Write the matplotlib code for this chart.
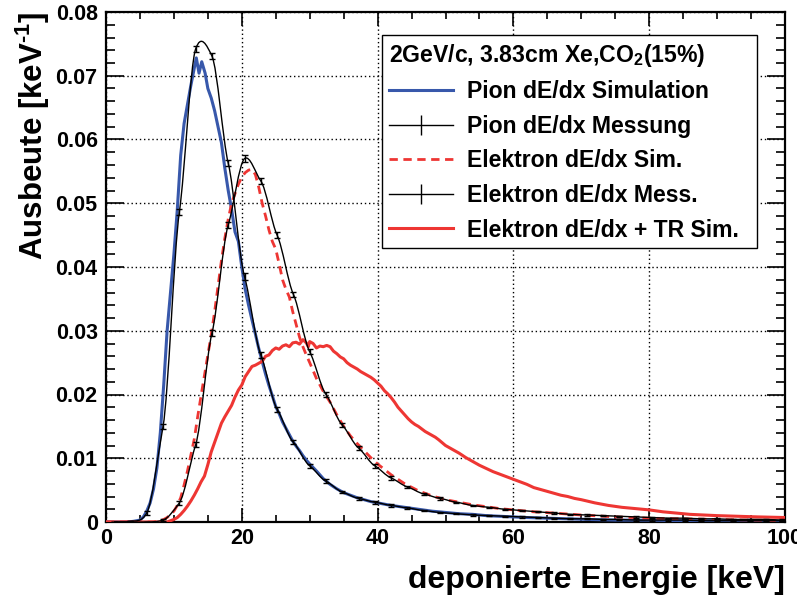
import numpy as np
import matplotlib
matplotlib.use("Agg")
import matplotlib.pyplot as plt
from matplotlib.path import Path
from matplotlib.patches import PathPatch
from matplotlib.lines import Line2D
from matplotlib.ticker import MultipleLocator, FuncFormatter

plt.rcParams.update({
    "font.family": ["Liberation Sans", "DejaVu Sans"],
    "font.weight": "bold",
    "mathtext.fontset": "custom",
    "mathtext.rm": "Liberation Sans:bold",
    "mathtext.it": "Liberation Sans:bold",
    "mathtext.bf": "Liberation Sans:bold",
})

BLUE = "#3858ab"
RED = "#ee3633"

# ---- pion dE/dx simulation (keV, yield per keV)
pi_sim_e = [0, 1, 2, 3, 4, 4.5, 5, 5.5, 6, 6.5, 7, 7.5, 8, 8.5, 9, 9.5, 10,
            10.5, 11, 11.5, 12, 12.5, 13, 13.3, 13.7, 14.1, 14.6, 15, 15.5,
            16, 16.5, 17, 17.5, 18, 18.5, 19, 19.5, 20, 20.5, 21, 21.5, 22,
            22.5, 23, 23.5, 24, 24.5, 25, 25.5, 26, 26.5, 27, 27.5, 28, 28.5,
            29, 29.5, 30, 31, 32, 33, 34, 35, 36, 37, 38, 39, 40, 42, 44, 46,
            48, 50, 52, 54, 56, 58, 60, 62, 65, 68, 71, 75, 80, 85, 90, 95, 100]
pi_sim_y = [0, 0, 0, 0, 0.0001, 0.0002, 0.0003, 0.0008, 0.0017, 0.0030,
            0.0052, 0.0085, 0.0140, 0.0215, 0.0300, 0.0360, 0.0420, 0.0490,
            0.0575, 0.0625, 0.0655, 0.0685, 0.0712, 0.0728, 0.0704, 0.0722,
            0.0704, 0.0680, 0.0665, 0.0645, 0.0620, 0.0595, 0.0555, 0.0520,
            0.0490, 0.0455, 0.0440, 0.0400, 0.0365, 0.0340, 0.0317, 0.0295,
            0.0272, 0.0252, 0.0232, 0.0214, 0.0198, 0.0181, 0.0170, 0.0157,
            0.0147, 0.0137, 0.0127, 0.0119, 0.0112, 0.0104, 0.0097, 0.0091,
            0.0080, 0.0068, 0.0059, 0.0052, 0.0046, 0.0042, 0.0038, 0.0035,
            0.0032, 0.0030, 0.0026, 0.0023, 0.0020, 0.0017, 0.0015, 0.0013,
            0.0012, 0.0010, 0.0009, 0.0008, 0.0007, 0.0006, 0.0005, 0.0004,
            0.0003, 0.0003, 0.0002, 0.0002, 0.0002, 0.0001]

# ---- electron dE/dx simulation
el_sim_e = [0, 7, 8, 8.5, 9, 9.5, 10, 10.5, 11, 11.5, 12, 12.5, 13, 13.5, 14,
            14.5, 15, 15.5, 16, 16.5, 17, 17.5, 18, 18.5, 19, 19.5, 20, 20.5,
            21, 21.5, 22, 22.5, 23, 23.5, 24, 24.5, 25, 25.5, 26, 26.5, 27,
            27.5, 28, 28.5, 29, 29.5, 30, 31, 32, 33, 34, 35, 36, 37, 38, 39,
            40, 42, 44, 46, 48, 50, 52, 54, 56, 58, 60, 63, 66, 70, 75, 80,
            85, 90, 95, 100]
el_sim_y = [0, 0, 0.0002, 0.0004, 0.0007, 0.0012, 0.0017, 0.0026, 0.0038,
            0.0058, 0.0080, 0.0105, 0.0130, 0.0165, 0.0198, 0.0230, 0.0262,
            0.0294, 0.0330, 0.0370, 0.0410, 0.0445, 0.0475, 0.0500, 0.0515,
            0.0530, 0.0541, 0.0548, 0.0552, 0.0553, 0.0545, 0.0525, 0.0500,
            0.0480, 0.0458, 0.0440, 0.0428, 0.0405, 0.0380, 0.0365, 0.0353,
            0.0330, 0.0310, 0.0290, 0.0275, 0.0262, 0.0250, 0.0225, 0.0205,
            0.0188, 0.0168, 0.0150, 0.0135, 0.0123, 0.0112, 0.0101, 0.0091,
            0.0074, 0.0060, 0.0049, 0.0041, 0.0035, 0.0031, 0.0027, 0.0024,
            0.0021, 0.0019, 0.0016, 0.0014, 0.0011, 0.0008, 0.0006, 0.0005,
            0.0004, 0.0003, 0.0002]

# ---- electron dE/dx + TR simulation
tr_sim_e = [0, 9, 9.5, 10, 10.5, 11, 11.5, 12, 12.5, 13, 13.5, 14, 14.5, 15,
            15.5, 16, 16.5, 17, 17.5, 18, 18.5, 19, 19.5, 20, 20.5, 21, 21.5,
            22, 22.5, 23, 23.5, 24, 24.5, 25, 25.5, 26, 26.5, 27, 27.5, 28,
            28.5, 29, 29.5, 29.8, 30, 30.5, 31, 31.5, 32, 32.5, 33, 33.5, 34,
            34.5, 35, 35.5, 36, 36.5, 37, 37.5, 38, 38.5, 39, 39.5, 40, 40.5,
            41, 41.5, 42, 42.5, 43, 43.5, 44, 44.5, 45, 45.5, 46, 46.5, 47,
            47.5, 48, 48.5, 49, 50, 51, 52, 53, 54, 55, 56, 57, 58, 59, 60,
            61, 62, 63, 64, 65, 66, 67, 68, 69, 70, 72, 74, 76, 78, 80, 82,
            84, 86, 88, 90, 93, 96, 100]
tr_sim_y = [0, 0, 0.0002, 0.0004, 0.0007, 0.0012, 0.0018, 0.0025, 0.0033,
            0.0042, 0.0052, 0.0063, 0.0072, 0.0090, 0.0110, 0.0125, 0.0140,
            0.0155, 0.0165, 0.0174, 0.0183, 0.0196, 0.0207, 0.0215, 0.0228,
            0.0236, 0.0244, 0.0246, 0.0249, 0.0252, 0.0260, 0.0262, 0.0269,
            0.0273, 0.0271, 0.0276, 0.0278, 0.0275, 0.0281, 0.0282, 0.0279,
            0.0286, 0.0281, 0.0275, 0.0283, 0.0280, 0.0273, 0.0276, 0.0275,
            0.0277, 0.0275, 0.0268, 0.0264, 0.0259, 0.0256, 0.0250, 0.0246,
            0.0243, 0.0240, 0.0236, 0.0233, 0.0230, 0.0227, 0.0223, 0.0218,
            0.0213, 0.0206, 0.0201, 0.0195, 0.0188, 0.0180, 0.0174, 0.0168,
            0.0162, 0.0157, 0.0153, 0.0150, 0.0146, 0.0142, 0.0139, 0.0136,
            0.0133, 0.0129, 0.0120, 0.0114, 0.0108, 0.0101, 0.0095, 0.0089,
            0.0084, 0.0079, 0.0075, 0.0071, 0.0067, 0.0063, 0.0059, 0.0054,
            0.0051, 0.0048, 0.0045, 0.0042, 0.0040, 0.0037, 0.0035, 0.0030,
            0.0026, 0.0023, 0.0021, 0.0019, 0.0016, 0.0014, 0.0012, 0.0011,
            0.0010, 0.0009, 0.0008, 0.0007]

# ---- measured spectra, 2.4 keV bins
meas_e = [1.2, 3.6, 6.0, 8.4, 10.8, 13.2, 15.6, 18.0, 20.4, 22.8, 25.2, 27.6,
          30.0, 32.4, 34.8, 37.2, 39.6, 42.0, 44.4, 46.8, 49.2, 51.6, 54.0,
          56.4, 58.8, 61.2, 63.6, 66.0, 68.4, 70.8, 73.2, 75.6, 78.0, 80.4,
          82.8, 85.2, 87.6, 90.0, 92.4, 94.8, 97.2, 99.6]
pi_meas_y = [0, 0.0001, 0.0014, 0.0150, 0.0486, 0.0742, 0.0731, 0.0563,
             0.0385, 0.0262, 0.0177, 0.0125, 0.0088, 0.0064, 0.0047, 0.0037,
             0.0031, 0.0026, 0.0022, 0.0018, 0.0015, 0.0013, 0.0011, 0.0010,
             0.0009, 0.0008, 0.0007, 0.0006, 0.0005, 0.0005, 0.0004, 0.0004,
             0.0003, 0.0003, 0.0003, 0.0003, 0.0002, 0.0002, 0.0002, 0.0002,
             0.0002, 0.0002]
pi_meas_err = [0, 0, 0.0003, 0.0004, 0.0005, 0.0005, 0.0005, 0.0005, 0.0005,
               0.0004, 0.0004, 0.0003, 0.0003, 0.0003, 0.0002, 0.0002, 0.0002,
               0.0002, 0.0001, 0.0001, 0.0001, 0.0001, 0.0001, 0.0001, 0.0001,
               0.0001, 0.0001, 0.0001, 0.0001, 0.0001, 0.0001, 0.0001, 0.0001,
               0.0001, 0.0001, 0.0001, 0.0001, 0.0001, 0.0001, 0.0001, 0.0001,
               0.0001]
el_meas_y = [0, 0, 0, 0.0003, 0.0030, 0.0121, 0.0296, 0.0466, 0.0570, 0.0535,
             0.0450, 0.0357, 0.0267, 0.0200, 0.0152, 0.0116, 0.0088, 0.0069,
             0.0055, 0.0044, 0.0037, 0.0031, 0.0026, 0.0023, 0.0020, 0.0018,
             0.0016, 0.0014, 0.0012, 0.0011, 0.0010, 0.0009, 0.0008, 0.0007,
             0.0006, 0.0006, 0.0005, 0.0005, 0.0004, 0.0004, 0.0004, 0.0003]
el_meas_err = [0, 0, 0, 0.0002, 0.0003, 0.0004, 0.0005, 0.0005, 0.0005,
               0.0005, 0.0005, 0.0004, 0.0004, 0.0004, 0.0003, 0.0003, 0.0003,
               0.0003, 0.0002, 0.0002, 0.0002, 0.0001, 0.0001, 0.0001, 0.0001,
               0.0001, 0.0001, 0.0001, 0.0001, 0.0001, 0.0001, 0.0001, 0.0001,
               0.0001, 0.0001, 0.0001, 0.0001, 0.0001, 0.0001, 0.0001, 0.0001,
               0.0001]

labels = ["Pion dE/dx Simulation", "Pion dE/dx Messung",
          "Elektron dE/dx Sim.", "Elektron dE/dx Mess.",
          "Elektron dE/dx + TR Sim."]
header = "2GeV/c, 3.83cm Xe,CO$_2$(15%)"


def smooth_path(x, y, k=0.6):
    """Smooth curve through the points (like ROOT's "C" draw option)."""
    x = np.asarray(x, float)
    y = np.asarray(y, float)
    n = len(x)
    verts = [(x[0], y[0])]
    codes = [Path.MOVETO]
    for i in range(n - 1):
        i0, i3 = max(i - 1, 0), min(i + 2, n - 1)
        m1 = k * (y[i + 1] - y[i0]) / (x[i + 1] - x[i0])
        m2 = k * (y[i3] - y[i]) / (x[i3] - x[i])
        h = x[i + 1] - x[i]
        verts += [(x[i] + h / 3, y[i] + m1 * h / 3),
                  (x[i + 1] - h / 3, y[i + 1] - m2 * h / 3),
                  (x[i + 1], y[i + 1])]
        codes += [Path.CURVE4] * 3
    return Path(verts, codes)


fig = plt.figure(figsize=(7.97, 5.97), dpi=100)
ax = fig.add_axes([106 / 797, 75 / 597, 679 / 797, 510 / 597])

l_pi, = ax.plot(pi_sim_e, pi_sim_y, color=BLUE, lw=2.2, zorder=3)
ax.add_patch(PathPatch(smooth_path(meas_e, pi_meas_y), fill=False,
                       edgecolor="black", lw=1.0, zorder=4))
ax.errorbar(meas_e, pi_meas_y, yerr=pi_meas_err, fmt="none", ecolor="black",
            elinewidth=1.0, capsize=2, capthick=1.0, zorder=4)
l_el, = ax.plot(el_sim_e, el_sim_y, color=RED, lw=2.0, dashes=(3, 2), zorder=3)
ax.add_patch(PathPatch(smooth_path(meas_e, el_meas_y), fill=False,
                       edgecolor="black", lw=1.0, zorder=4))
ax.errorbar(meas_e, el_meas_y, yerr=el_meas_err, fmt="none", ecolor="black",
            elinewidth=1.0, capsize=2, capthick=1.0, zorder=4)
l_tr, = ax.plot(tr_sim_e, tr_sim_y, color=RED, lw=2.2, zorder=3)

ax.set_xlim(0, 100)
ax.set_ylim(0, 0.08)
ax.xaxis.set_major_locator(MultipleLocator(20))
ax.xaxis.set_minor_locator(MultipleLocator(5))
ax.yaxis.set_major_locator(MultipleLocator(0.01))
ax.yaxis.set_minor_locator(MultipleLocator(0.002))
ax.xaxis.set_major_formatter(FuncFormatter(lambda v, p: f"{v:g}"))
ax.yaxis.set_major_formatter(FuncFormatter(lambda v, p: "0" if abs(v) < 1e-9 else f"{v:.2f}"))
ax.grid(True, which="major", color="black", lw=1.0, ls=(0, (1, 2)))
ax.tick_params(which="both", direction="in", top=True, right=True,
               labelsize=15.5, width=1.2, colors="black")
ax.xaxis.set_tick_params(which="major", length=10, pad=4)
ax.xaxis.set_tick_params(which="minor", length=5)
ax.yaxis.set_tick_params(which="major", length=13, pad=6)
ax.yaxis.set_tick_params(which="minor", length=6.5)
for sp in ax.spines.values():
    sp.set_linewidth(1.6)

fig.text(785 / 797, 1 - 588 / 597, "deponierte Energie [keV]", ha="right",
         va="baseline", fontsize=23)
fig.text(33 / 797, 1 - 12 / 597, r"Ausbeute [keV$^{\text{-}1}$]", rotation=90,
         ha="center", va="top", fontsize=22.5)

meas_proxy = (Line2D([], [], color="black", lw=1.0),
              Line2D([], [], color="black", marker="|", ls="none",
                     markersize=15, markeredgewidth=1.0))
leg = ax.legend([l_pi, meas_proxy, l_el, meas_proxy, l_tr], labels,
                title=header, alignment="left",
                loc="upper left", mode="expand",
                bbox_to_anchor=(382 / 797, 1 - 252 / 597, 375 / 797, 217 / 597),
                bbox_transform=fig.transFigure, borderaxespad=0,
                fontsize=16.6, title_fontsize=16.6, frameon=True, fancybox=False,
                edgecolor="black", framealpha=1, borderpad=0.3,
                handlelength=2.8, handletextpad=0.6, labelspacing=0.5)
leg.get_frame().set_linewidth(1.0)
leg.set_zorder(10)

fig.savefig("out.png", dpi=100)
